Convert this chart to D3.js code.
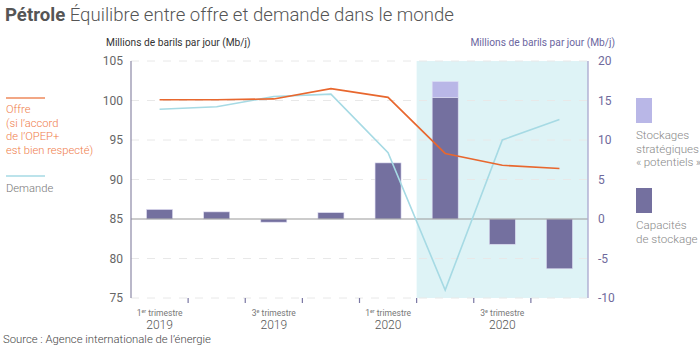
<!DOCTYPE html>
<html>
<head>
<meta charset="utf-8">
<script src="https://cdn.jsdelivr.net/npm/d3@7"></script>
<style>
  body { margin: 0; background: #fff; font-family: Roboto, "Open Sans", sans-serif; }
  svg text { font-family: Roboto, sans-serif; }
</style>
</head>
<body>
<div id="chart"></div>
<script>
var quarters = ["T1 2019", "T2 2019", "T3 2019", "T4 2019", "T1 2020", "T2 2020", "T3 2020", "T4 2020"];
var offre = [100.1, 100.1, 100.2, 101.5, 100.4, 93.3, 91.8, 91.4];
var demande = [98.9, 99.2, 100.5, 100.8, 93.4, 76.0, 95.0, 97.6];
var capacites = [1.2, 0.9, -0.4, 0.8, 7.1, 15.4, -3.2, -6.3];
var strategiques = [0, 0, 0, 0, 0, 2.0, 0, 0];
var leftTicks = [75, 80, 85, 90, 95, 100, 105];
var rightTicks = [-10, -5, 0, 5, 10, 15, 20];
var xLabels = [
    {q: "T1 2019", ord: "1", sup: "er", year: "2019"},
    {q: "T3 2019", ord: "3", sup: "e", year: "2019"},
    {q: "T1 2020", ord: "1", sup: "er", year: "2020"},
    {q: "T3 2020", ord: "3", sup: "e", year: "2020"}
];
var highlightFrom = "T2 2020";

var svg = d3.select("#chart").append("svg").attr("width", 700).attr("height", 348);
var margin = {top: 61, right: 112, bottom: 50, left: 131};
var width = 700 - margin.left - margin.right;
var height = 348 - margin.top - margin.bottom;

var x = d3.scaleBand().domain(quarters).range([margin.left, margin.left + width]).paddingInner(0).paddingOuter(0);
var yL = d3.scaleLinear().domain([75, 105]).range([margin.top + height, margin.top]);
var yR = d3.scaleLinear().domain([-10, 20]).range([margin.top + height, margin.top]);

// Title
var title = svg.append("text").attr("x", 5).attr("y", 21).attr("font-size", 18.6).attr("fill", "#555");
title.append("tspan").attr("font-weight", 700).text("Pétrole");
title.append("tspan").attr("font-weight", 300).text(" Équilibre entre offre et demande dans le monde");

// Highlight area
svg.append("rect")
    .attr("x", x(highlightFrom))
    .attr("y", yL(105))
    .attr("width", margin.left + width - x(highlightFrom))
    .attr("height", yL(75) - yL(105))
    .attr("fill", "#def3f6");

// Gridlines
svg.append("g").selectAll("line")
    .data(leftTicks.filter(d => d !== 85))
    .enter().append("line")
    .attr("x1", margin.left).attr("x2", margin.left + width)
    .attr("y1", d => yL(d)).attr("y2", d => yL(d))
    .attr("stroke", "#e8e8e8").attr("stroke-dasharray", "8,8");

// Bars
var barW = 26;
svg.append("g").selectAll("rect")
    .data(quarters)
    .enter().append("rect")
    .attr("x", (d) => x(d) + x.bandwidth() / 2 - barW / 2)
    .attr("y", (d, i) => yR(Math.max(0, capacites[i])))
    .attr("width", barW)
    .attr("height", (d, i) => Math.abs(yR(capacites[i]) - yR(0)))
    .attr("fill", "#74709f")
    .attr("stroke", "#dcdaf0").attr("stroke-width", 0.6);

svg.append("g").selectAll("rect")
    .data(quarters.filter((d, i) => strategiques[i] > 0))
    .enter().append("rect")
    .attr("x", d => x(d) + x.bandwidth() / 2 - barW / 2)
    .attr("y", d => { var i = quarters.indexOf(d); return yR(capacites[i] + strategiques[i]); })
    .attr("width", barW)
    .attr("height", d => { var i = quarters.indexOf(d); return yR(capacites[i]) - yR(capacites[i] + strategiques[i]); })
    .attr("fill", "#b9b7e7")
    .attr("stroke", "#e0dff5").attr("stroke-width", 0.6);

// Zero line
svg.append("line")
    .attr("x1", margin.left).attr("x2", margin.left + width)
    .attr("y1", yR(0)).attr("y2", yR(0))
    .attr("stroke", "#9a9a9a").attr("stroke-width", 1.2);

// Lines
var line = d3.line().x((d, i) => x(quarters[i]) + x.bandwidth() / 2).y(d => yL(d));
svg.append("path").datum(demande).attr("d", line)
    .attr("fill", "none").attr("stroke", "#a6dae4").attr("stroke-width", 1.6);
svg.append("path").datum(offre).attr("d", line)
    .attr("fill", "none").attr("stroke", "#e8672e").attr("stroke-width", 1.6);

// Left axis
svg.append("line").attr("x1", margin.left).attr("x2", margin.left)
    .attr("y1", yL(105)).attr("y2", yL(75)).attr("stroke", "#8c89a6").attr("stroke-width", 1.2);
svg.append("g").selectAll("text")
    .data(leftTicks).enter().append("text")
    .attr("x", margin.left - 8).attr("y", d => yL(d) + 4)
    .attr("text-anchor", "end").attr("font-size", 12).attr("fill", "#666")
    .text(d => d);

// Right axis
svg.append("line").attr("x1", margin.left + width).attr("x2", margin.left + width)
    .attr("y1", yR(20)).attr("y2", yR(-10)).attr("stroke", "#aeacd2").attr("stroke-width", 1.4);
svg.append("g").selectAll("text")
    .data(rightTicks).enter().append("text")
    .attr("x", margin.left + width + 10).attr("y", d => yR(d) + 4)
    .attr("text-anchor", "start").attr("font-size", 12).attr("fill", "#6f6a9c")
    .text(d => d);

// Bottom ticks
svg.append("g").selectAll("line")
    .data(quarters.slice(1)).enter().append("line")
    .attr("x1", d => x(d)).attr("x2", d => x(d))
    .attr("y1", yL(75)).attr("y2", yL(75) + 5)
    .attr("stroke", "#7a77a3").attr("stroke-width", 1.2);

// X labels
var xl = svg.append("g").selectAll("g").data(xLabels).enter().append("g");
var t1 = xl.append("text")
    .attr("x", d => x(d.q) + x.bandwidth() / 2).attr("y", 316)
    .attr("text-anchor", "middle").attr("font-size", 8.5).attr("fill", "#777");
t1.append("tspan").text(d => d.ord);
t1.append("tspan").attr("font-size", 5.5).attr("dy", -3).text(d => d.sup);
t1.append("tspan").attr("dy", 3).text(" trimestre");
xl.append("text")
    .attr("x", d => x(d.q) + x.bandwidth() / 2).attr("y", 329)
    .attr("text-anchor", "middle").attr("font-size", 12).attr("font-weight", 300).attr("fill", "#555")
    .text(d => d.year);

// Axis titles
svg.append("text").attr("x", 106).attr("y", 46).attr("font-size", 10.2).attr("fill", "#333")
    .text("Millions de barils par jour (Mb/j)");
svg.append("text").attr("x", 615).attr("y", 46).attr("text-anchor", "end")
    .attr("font-size", 10.2).attr("fill", "#6b66a0")
    .text("Millions de barils par jour (Mb/j)");

// Left legend
svg.append("line").attr("x1", 6).attr("x2", 45).attr("y1", 98).attr("y2", 98)
    .attr("stroke", "#ee8a5c").attr("stroke-width", 1.6);
svg.append("g").selectAll("text")
    .data(["Offre", "(si l’accord", "de l’OPEP+", "est bien respecté)"])
    .enter().append("text")
    .attr("x", 6).attr("y", (d, i) => 113 + i * 13.6)
    .attr("font-size", 11.2).attr("font-weight", 300).attr("fill", "#ef7d4a")
    .text(d => d);
svg.append("line").attr("x1", 6).attr("x2", 45).attr("y1", 176).attr("y2", 176)
    .attr("stroke", "#a6dae4").attr("stroke-width", 1.6);
svg.append("text").attr("x", 6).attr("y", 192).attr("font-size", 11.2)
    .attr("font-weight", 300).attr("fill", "#777").text("Demande");

// Right legend
svg.append("rect").attr("x", 636).attr("y", 98).attr("width", 16).attr("height", 25).attr("fill", "#b9b7e7");
svg.append("g").selectAll("text")
    .data(["Stockages", "stratégiques", "«\u2009potentiels\u2009»"])
    .enter().append("text")
    .attr("x", 636).attr("y", (d, i) => 139 + i * 13.6)
    .attr("font-size", 11.6).attr("font-weight", 300).attr("fill", "#888")
    .text(d => d);
svg.append("rect").attr("x", 636).attr("y", 188).attr("width", 16).attr("height", 25).attr("fill", "#74709f");
svg.append("g").selectAll("text")
    .data(["Capacités", "de stockage"])
    .enter().append("text")
    .attr("x", 636).attr("y", (d, i) => 229 + i * 13.6)
    .attr("font-size", 11.6).attr("font-weight", 300).attr("fill", "#888")
    .text(d => d);

// Source
svg.append("text").attr("x", 3).attr("y", 343).attr("font-size", 11.3).attr("font-weight", 300).attr("fill", "#444")
    .text("Source : Agence internationale de l’énergie");
</script>
</body>
</html>
